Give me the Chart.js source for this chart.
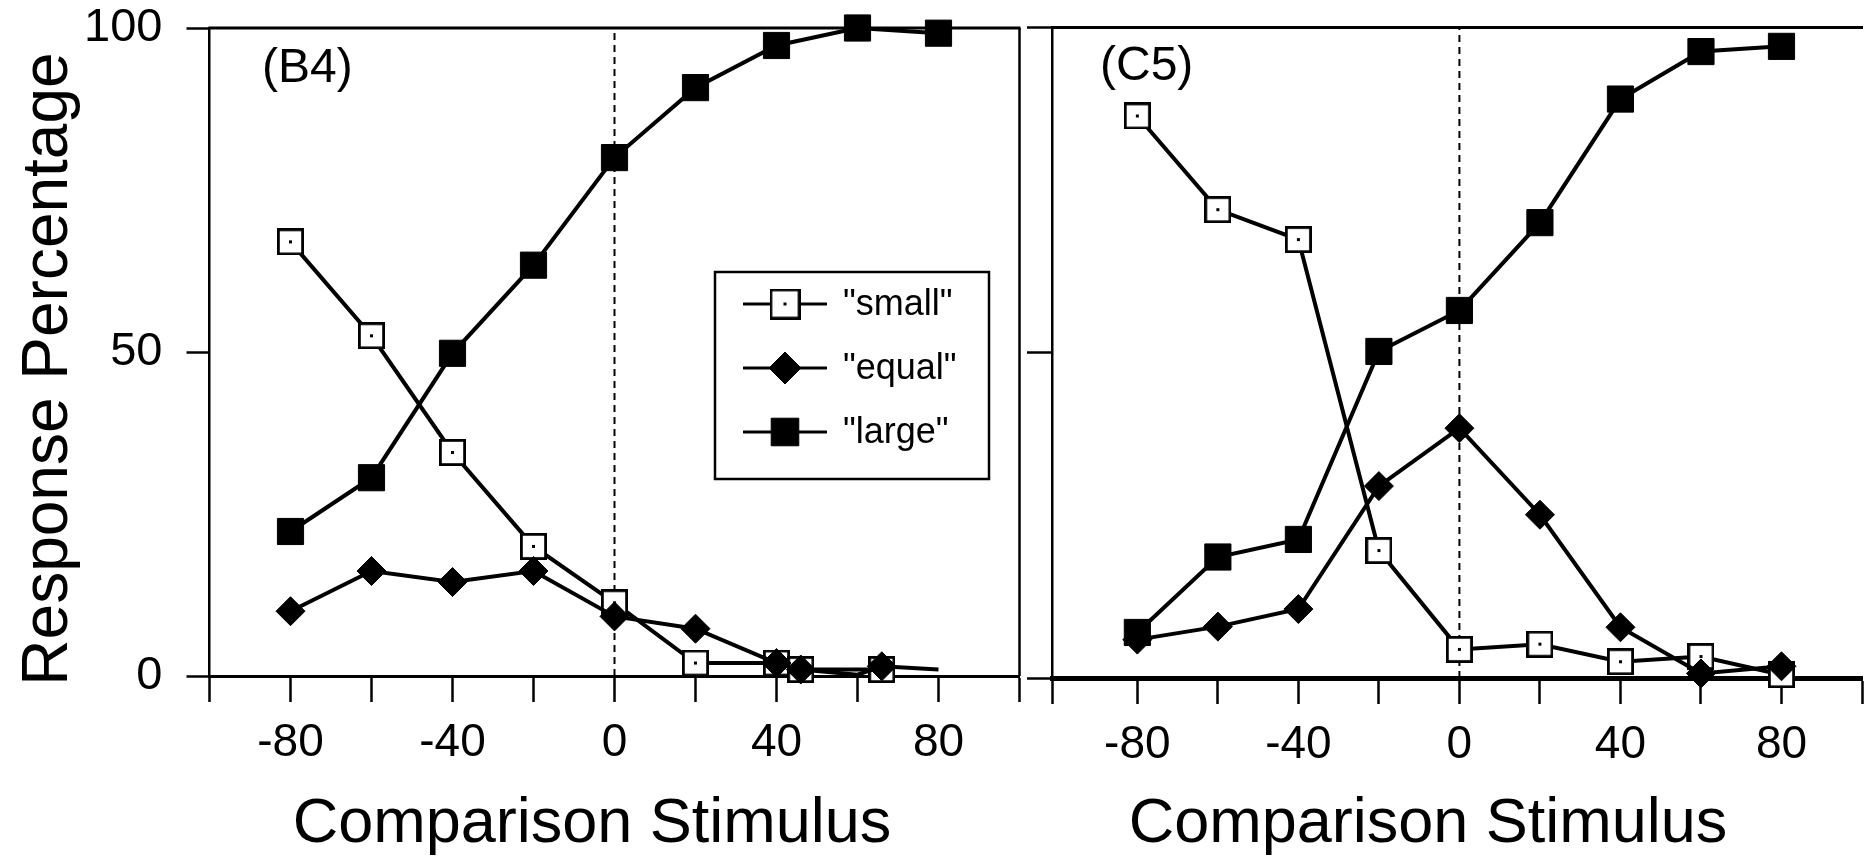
<!DOCTYPE html>
<html>
<head>
<meta charset="utf-8">
<title>Response Percentage</title>
<script src="https://cdn.jsdelivr.net/npm/chart.js"></script>
<style>
    html, body {
        margin: 0;
        padding: 0;
        background: #fff;
        overflow: hidden;
        width: 1866px;
        height: 859px;
    }
    .panel {
        position: absolute;
        top: 0;
    }
    #panelB4 { left: 0; }
    #panelC5 { left: 1000px; }
</style>
</head>
<body>
<canvas id="panelB4" class="panel" width="1040" height="859"></canvas>
<canvas id="panelC5" class="panel" width="880" height="859"></canvas>
<script>
// comparison stimulus levels
const stimulus = [-80, -60, -40, -20, 0, 20, 40, 60, 80];
const xTickLabels = [-80, -40, 0, 40, 80];
const yTickLabels = [0, 50, 100];
const seriesNames = ['"small"', '"equal"', '"large"'];
const referenceX = 0;

// block B4 - the last few markers are off the regular grid
const b4SmallX = [-80, -60, -40, -20, 0, 20, 40, 46, 66];
const b4SmallY = [67, 52.5, 34.5, 20, 11.3, 2, 2, 1, 1];
const b4EqualX = [-80, -60, -40, -20, 0, 20, 40, 46, 60, 66, 80];
const b4EqualY = [10, 16.2, 14.5, 16.2, 9.2, 7.3, 2, 1, 0.2, 1.5, 1];
const b4EqualNoMarker = [60, 80];
const b4LargeY = [22.3, 30.6, 49.8, 63.4, 80, 90.8, 97.3, 100, 99.2];

// block C5
const c5SmallY = [86.4, 72, 67.4, 19.6, 4.4, 5.2, 2.5, 3.3, 0.5];
const c5EqualY = [5.9, 7.9, 10.6, 29.5, 38.4, 25.1, 7.8, 0.7, 1.8];
const c5LargeY = [7, 18.6, 21.3, 50.2, 56.5, 70, 89, 96.3, 97.1];

const FONT = '"Liberation Sans", Arial, Helvetica, sans-serif';
Chart.defaults.font.family = FONT;
Chart.defaults.color = '#000';

const toPoints = (xs, ys) => xs.map((x, i) => ({ x: x, y: ys[i] }));

// open square with a dot in the middle
function makeOpenSquare(size) {
    const c = document.createElement('canvas');
    c.width = size;
    c.height = size;
    const g = c.getContext('2d');
    g.fillStyle = '#fff';
    g.fillRect(0, 0, size, size);
    g.strokeStyle = '#000';
    g.lineWidth = 2.8;
    g.strokeRect(1.4, 1.4, size - 2.8, size - 2.8);
    g.fillStyle = '#000';
    g.fillRect(size / 2 - 1.5, size / 2 - 1.5, 3, 3);
    return c;
}
const openSquare = makeOpenSquare(27);
const openSquareBig = makeOpenSquare(31);

function seriesDatasets(small, equal, large, equalNoMarker) {
    const line = {
        showLine: true,
        borderColor: '#000',
        borderWidth: 4,
        pointBorderColor: '#000',
        clip: false
    };
    return [
        Object.assign({}, line, {
            label: seriesNames[0],
            data: small,
            pointStyle: openSquare,
            legendStyle: openSquareBig,
            pointRadius: 14,
            pointBackgroundColor: '#fff',
            pointBorderWidth: 0,
            order: 3
        }),
        Object.assign({}, line, {
            label: seriesNames[1],
            data: equal,
            pointStyle: 'rectRot',
            pointRadius: (ctx) => {
                const p = ctx.raw;
                return p && equalNoMarker.includes(p.x) ? 0 : 14.5;
            },
            pointBackgroundColor: '#000',
            pointBorderWidth: 1,
            order: 2
        }),
        Object.assign({}, line, {
            label: seriesNames[2],
            data: large,
            pointStyle: 'rect',
            pointRadius: 18.5,
            pointBackgroundColor: '#000',
            pointBorderWidth: 1,
            order: 1
        }),
        {
            label: '',
            data: [{ x: referenceX, y: 0 }, { x: referenceX, y: 100 }],
            showLine: true,
            borderColor: '#000',
            borderWidth: 2,
            borderDash: [7, 5],
            pointRadius: 0,
            clip: false,
            order: 4
        }
    ];
}

// top edge (and right edge) of the plotting box
const frame = {
    id: 'frame',
    afterDraw(chart, args, opts) {
        const { ctx, chartArea } = chart;
        ctx.save();
        ctx.strokeStyle = '#000';
        ctx.lineWidth = 3;
        ctx.beginPath();
        ctx.moveTo(chartArea.left - 1, chartArea.top);
        ctx.lineTo(chartArea.right + 1, chartArea.top);
        ctx.stroke();
        if (opts.right) {
            ctx.lineWidth = 2.5;
            ctx.beginPath();
            ctx.moveTo(chartArea.right, chartArea.top);
            ctx.lineTo(chartArea.right, chartArea.bottom);
            ctx.stroke();
        }
        ctx.restore();
    }
};

// panel label and axis titles
const panelText = {
    id: 'panelText',
    afterDraw(chart, args, opts) {
        const ctx = chart.ctx;
        (opts.items || []).forEach(item => {
            ctx.save();
            ctx.fillStyle = '#000';
            ctx.font = item.size + 'px ' + FONT;
            ctx.textAlign = item.align || 'left';
            ctx.textBaseline = 'alphabetic';
            ctx.translate(item.x, item.y);
            if (item.rotate) ctx.rotate(item.rotate);
            ctx.fillText(item.text, 0, 0);
            ctx.restore();
        });
    }
};

// boxed legend inside the plot
const boxLegend = {
    id: 'boxLegend',
    afterDatasetsDraw(chart, args, opts) {
        if (!opts.display) return;
        const ctx = chart.ctx;
        const { left, top, width, height } = opts;
        ctx.save();
        ctx.fillStyle = '#fff';
        ctx.fillRect(left, top, width, height);
        ctx.strokeStyle = '#000';
        ctx.lineWidth = 2.5;
        ctx.strokeRect(left, top, width, height);
        ctx.font = '36px ' + FONT;
        ctx.textBaseline = 'middle';
        chart.data.datasets.filter(ds => ds.label).forEach((ds, i) => {
            const y = top + 32 + i * 64;
            ctx.strokeStyle = '#000';
            ctx.lineWidth = 3;
            ctx.beginPath();
            ctx.moveTo(left + 28, y);
            ctx.lineTo(left + 112, y);
            ctx.stroke();
            ctx.fillStyle = ds.pointBackgroundColor;
            ctx.lineWidth = ds.pointBorderWidth;
            Chart.helpers.drawPoint(ctx, {
                pointStyle: ds.legendStyle || ds.pointStyle,
                radius: ds.pointStyle === 'rect' ? 19.5 : 16,
                rotation: 0,
                borderWidth: ds.pointBorderWidth
            }, left + 70, y);
            ctx.fillStyle = '#000';
            ctx.fillText(ds.label, left + 128, y + 1);
        });
        ctx.restore();
    }
};

function makeScales(p) {
    return {
        x: {
            type: 'linear',
            min: p.xMin,
            max: 100,
            afterFit: (s) => { s.height = p.xHeight; },
            border: { display: true, color: '#000', width: p.zeroWidth },
            grid: {
                drawOnChartArea: false,
                drawTicks: true,
                tickLength: 26,
                tickWidth: 2.5,
                tickColor: '#000'
            },
            ticks: {
                stepSize: 20,
                autoSkip: false,
                maxRotation: 0,
                padding: 18,
                color: '#000',
                font: { size: 46, lineHeight: 1 },
                callback: (v) => xTickLabels.includes(v) ? String(v) : ''
            }
        },
        y: {
            min: 0,
            max: 100,
            afterFit: (s) => {
                // fixed axis width; the label overhang must not shrink the plot
                s.width = p.yWidth;
                s.paddingTop = 0;
                s.paddingBottom = 0;
            },
            border: { display: true, color: '#000', width: 2.5 },
            grid: {
                drawOnChartArea: false,
                drawTicks: true,
                tickLength: p.yTickLength,
                tickWidth: 2.5,
                tickColor: '#000'
            },
            ticks: {
                display: p.yLabels,
                stepSize: 50,
                padding: 24,
                color: '#000',
                font: { size: 47, lineHeight: 1 },
                callback: (v) => yTickLabels.includes(v) ? String(v) : ''
            }
        }
    };
}

function makePanel(canvasId, p) {
    return new Chart(document.getElementById(canvasId), {
        type: 'scatter',
        data: { datasets: p.datasets },
        options: {
            responsive: false,
            animation: false,
            events: [],
            layout: { padding: p.padding, autoPadding: false },
            scales: makeScales(p),
            plugins: {
                legend: { display: false },
                tooltip: { enabled: false },
                frame: { right: p.rightEdge },
                panelText: { items: p.texts },
                boxLegend: p.legend || { display: false }
            }
        },
        plugins: [frame, panelText, boxLegend]
    });
}

window.addEventListener('DOMContentLoaded', () => {
    makePanel('panelB4', {
        datasets: seriesDatasets(
            toPoints(b4SmallX, b4SmallY),
            toPoints(b4EqualX, b4EqualY),
            toPoints(stimulus, b4LargeY),
            b4EqualNoMarker
        ),
        padding: { top: 28, right: 20.5, bottom: 0, left: 0 },
        xMin: -100,
        xHeight: 183,
        yWidth: 209.5,
        yTickLength: 23,
        yLabels: true,
        zeroWidth: 3,
        rightEdge: true,
        legend: { display: true, left: 715, top: 272, width: 274, height: 207 },
        texts: [
            { text: '(B4)', x: 262, y: 82, size: 48 },
            { text: 'Comparison Stimulus', x: 592, y: 842, size: 63, align: 'center' },
            { text: 'Response Percentage', x: 67, y: 369, size: 64, align: 'center', rotate: -Math.PI / 2 }
        ]
    });

    makePanel('panelC5', {
        datasets: seriesDatasets(
            toPoints(stimulus, c5SmallY),
            toPoints(stimulus, c5EqualY),
            toPoints(stimulus, c5LargeY),
            []
        ),
        padding: { top: 27.5, right: 11, bottom: 0, left: 0 },
        xMin: -101.2,
        xHeight: 181,
        yWidth: 52,
        yTickLength: 25,
        yLabels: false,
        zeroWidth: 5,
        rightEdge: false,
        texts: [
            { text: '(C5)', x: 100, y: 80, size: 48 },
            { text: 'Comparison Stimulus', x: 428, y: 842, size: 63, align: 'center' }
        ]
    });
});
</script>
</body>
</html>
